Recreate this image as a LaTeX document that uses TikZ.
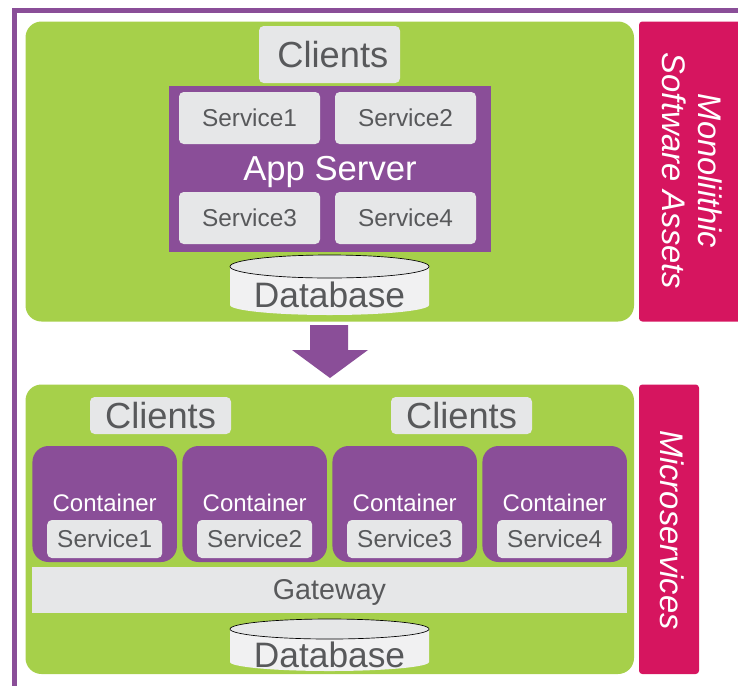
\documentclass[tikz,border=0pt]{standalone}
\usepackage{fontspec}
\setmainfont{Liberation Sans}
\usetikzlibrary{shapes.geometric}
\usetikzlibrary{calc}
\definecolor{panelgreen}{RGB}{166,208,74}
\definecolor{boxpurple}{RGB}{138,78,152}
\definecolor{barpink}{RGB}{214,21,95}
\definecolor{boxgrey}{RGB}{230,231,232}
\definecolor{dbgrey}{RGB}{241,241,242}
\definecolor{textgrey}{RGB}{88,89,91}

\begin{document}
\begin{tikzpicture}[x=0.75pt, y=-0.75pt]
        % ================= styles =================
        \tikzset{
            % panels and bars
            green_panel/.style={fill=panelgreen, rounded corners=12pt},
            pink_bar/.style={fill=barpink, rounded corners=2.5pt},
            bar_text/.style={text=white, rotate=-90, font=\fontsize{24.5}{28}\selectfont\itshape},
            % grey boxes
            grey_box/.style={fill=boxgrey, text=textgrey, inner sep=0pt, rounded corners=3.5pt},
            client_box/.style={grey_box, font=\fontsize{27.2}{32}\selectfont},
            service_box/.style={grey_box, minimum width=105.75pt, minimum height=39pt, font=\fontsize{18.3}{22}\selectfont},
            small_service/.style={grey_box, minimum width=86.25pt, minimum height=28.5pt, font=\fontsize{18.3}{22}\selectfont},
            % purple boxes
            container_box/.style={fill=boxpurple, rounded corners=12pt, minimum width=108.4pt, minimum height=87pt, inner sep=0pt},
            purple_text/.style={text=white, inner sep=0pt},
            db_text/.style={text=textgrey, inner sep=0pt, font=\fontsize{26.5}{32}\selectfont}
        }
        \useasboundingbox (0,0) rectangle (738,686);

        % outer frame, open to the right and at the bottom
        \draw[boxpurple, line width=3.75pt] (738,10.7) -- (14,10.7) -- (14,686);

        % ================= monolith =================
        \fill[green_panel] (25.5,21.5) rectangle (634,321.5);
        \fill[pink_bar] (639,21.5) rectangle (745,321.5);
        \node[bar_text] (monolithic) at (710,171) {Monoliithic};
        \node[bar_text] (assets) at (674,171) {Software Assets};

        \node[client_box, minimum width=105.75pt, minimum height=42.75pt] (clients) at (329.5,54.5) {\hspace*{5pt}Clients};
        \node[fill=boxpurple, minimum width=241.5pt, minimum height=124.2pt, inner sep=0pt] (appserver) at (330,168.8) {};
        \node[purple_text, font=\fontsize{26}{31}\selectfont] (applabel) at (330,172) {App Server};
        \node[service_box] (service1) at (249.5,118) {Service1};
        \node[service_box] (service2) at (405.5,118) {Service2};
        \node[service_box] (service3) at (249.5,218) {Service3};
        \node[service_box] (service4) at (405.5,218) {Service4};

        % database of the monolith
        \fill[dbgrey] (230,266) -- (230,305) arc[start angle=180, end angle=360, x radius=99.5, y radius=-10] -- (429,266) -- cycle;
        \node[ellipse, draw=black, fill=boxgrey, line width=0.5pt, inner sep=0pt, minimum width=149.25pt, minimum height=17.25pt] (dbtop) at (329.5,266.5) {};
        \node[db_text] (database) at (329.5,295) {Database};

        % ================= arrow between the panels =================
        \fill[boxpurple] (310,325) -- (348,325) -- (348,350) -- (368,350) -- (330,378) -- (292,350) -- (310,350) -- cycle;

        % ================= microservices =================
        \fill[green_panel] (25.5,384.5) rectangle (634,674);
        \fill[pink_bar] (639,384.5) rectangle (699,674);
        \node[bar_text] (micro) at (672,530) {Microservices};

        \node[client_box, minimum width=105.75pt, minimum height=27.75pt] (clientsa) at (160.5,415.5) {Clients};
        \node[client_box, minimum width=105.75pt, minimum height=27.75pt] (clientsb) at (461.5,415.5) {Clients};

        % containers, each one with its service
        \foreach \i/\cx in {1/104.7,2/254.7,3/404.7,4/554.7} {
            \node[container_box] (container\i) at (\cx,504) {};
            \node[purple_text, font=\fontsize{18}{22}\selectfont] (clabel\i) at (\cx,503) {Container};
            \node[small_service] (cservice\i) at (\cx,539) {Service\i};
        }

        \node[fill=boxgrey, text=textgrey, inner sep=0pt, minimum width=446.25pt, minimum height=34.5pt, text height=15.5pt, text depth=1.5pt, font=\fontsize{21.5}{26}\selectfont] (gateway) at (329.5,590) {Gateway};

        % database of the microservices
        \fill[dbgrey] (230,629) -- (230,662) arc[start angle=180, end angle=360, x radius=99.5, y radius=-9] -- (429,629) -- cycle;
        \node[ellipse, draw=black, fill=boxgrey, line width=0.5pt, inner sep=0pt, minimum width=149.25pt, minimum height=15pt] (dbbottom) at (329.5,629) {};
        \node[db_text] (database2) at (329.5,655) {Database};
    \end{tikzpicture}
\end{document}
